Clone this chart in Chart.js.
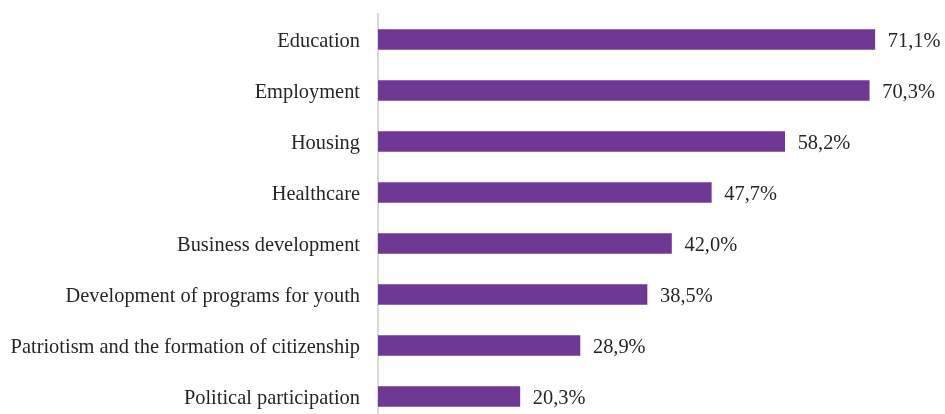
<!DOCTYPE html>
<html>
<head>
    <title>Priority areas</title>
    <script src="https://cdn.jsdelivr.net/npm/chart.js"></script>
    <style>
        html, body { margin: 0; padding: 0; background: #fff; overflow: hidden; }
        canvas { display: block; }
    </style>
</head>
<body>
    <canvas id="myChart" width="945" height="422"></canvas>
    <script>
        const categories = [
            'Education',
            'Employment',
            'Housing',
            'Healthcare',
            'Business development',
            'Development of programs for youth',
            'Patriotism and the formation of citizenship',
            'Political participation'
        ];
        const shares = [71.1, 70.3, 58.2, 47.7, 42.0, 38.5, 28.9, 20.3];

        const serif = "'Liberation Serif', 'Times New Roman', serif";

        // writes the percentage just past the end of each bar
        const valueLabels = {
            id: 'valueLabels',
            afterDatasetsDraw(chart) {
                const ctx = chart.ctx;
                const meta = chart.getDatasetMeta(0);
                ctx.save();
                ctx.font = '20.4px ' + serif;
                ctx.fillStyle = '#262626';
                ctx.textAlign = 'left';
                ctx.textBaseline = 'middle';
                meta.data.forEach((bar, i) => {
                    const text = shares[i].toFixed(1).replace('.', ',') + '%';
                    ctx.fillText(text, bar.x + 13, bar.y + 2);
                });
                ctx.restore();
            }
        };

        const ctx = document.getElementById('myChart').getContext('2d');
        const myChart = new Chart(ctx, {
            type: 'bar',
            data: {
                labels: categories,
                datasets: [{
                    data: shares,
                    backgroundColor: '#6f3895',
                    borderWidth: 0,
                    barThickness: 20
                }]
            },
            options: {
                indexAxis: 'y',
                responsive: false,
                animation: false,
                layout: { padding: { top: 14, right: 8, bottom: 0, left: 0 } },
                plugins: {
                    legend: { display: false },
                    tooltip: { enabled: false }
                },
                scales: {
                    x: {
                        display: false,
                        min: 0,
                        max: 80
                    },
                    y: {
                        grid: { display: false, drawTicks: false },
                        border: { display: true, color: '#d9d9d9', width: 2 },
                        ticks: {
                            font: { family: serif, size: 20.4 },
                            color: '#262626',
                            padding: 18,
                            labelOffset: 2
                        },
                        afterFit(scale) {
                            scale.width = 378;
                            scale.paddingTop = 0;
                            scale.paddingBottom = 0;
                        }
                    }
                }
            },
            plugins: [valueLabels]
        });
    </script>
</body>
</html>
